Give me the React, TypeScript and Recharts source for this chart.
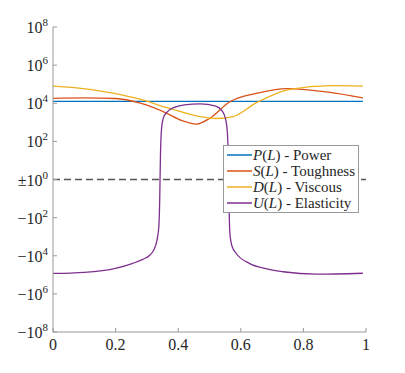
import React from 'react';
import { LineChart, Line, XAxis, YAxis, ReferenceLine, Legend } from 'recharts';

// ---- data ----
const P_L = [0, 0.99];
const P_VALUES = [12600, 12600];

const S_L = [0, 0.1, 0.2, 0.279, 0.364, 0.41, 0.459, 0.5, 0.565, 0.65, 0.747, 0.886, 0.99];
const S_VALUES = [18200, 19000, 17800, 10000, 2950, 1260, 810, 1580, 12000, 33100, 58900, 37200, 19000];

const D_L = [0, 0.118, 0.2, 0.28, 0.364, 0.47, 0.52, 0.575, 0.65, 0.757, 0.886, 0.99];
const D_VALUES = [79400, 53700, 31600, 15800, 5900, 2000, 1580, 2000, 10700, 53700, 83200, 79400];

const U_L = [0, 0.1, 0.2, 0.255, 0.287, 0.31, 0.322, 0.332, 0.338, 0.341, 0.343, 0.346, 0.352, 0.365, 0.39, 0.42, 0.47, 0.52, 0.54, 0.551, 0.557, 0.56, 0.562, 0.565, 0.572, 0.585, 0.627, 0.68, 0.735, 0.84, 0.99];
const U_VALUES = [-85000, -74000, -45700, -25100, -15500, -9100, -5000, -1580, -316, -9, 9, 316, 1580, 3550, 6300, 8300, 9300, 7100, 4000, 1580, 316, 9, -9, -630, -3160, -7400, -25100, -47900, -69000, -93000, -83000];

const X_TICKS = [0, 0.2, 0.4, 0.6, 0.8, 1];
const X_TICK_LABELS = ['0', '0.2', '0.4', '0.6', '0.8', '1'];
const Y_TICK_EXPONENTS = [-8, -6, -4, -2, 0, 2, 4, 6, 8];

const SERIES_NAMES = ['Power', 'Toughness', 'Viscous', 'Elasticity'];
const SERIES_SYMBOLS = ['P', 'S', 'D', 'U'];
const SERIES_COLORS = ['#0072BD', '#D95319', '#EDB120', '#7E2F8E'];

// symmetric log transform
const toT = (v: number) => Math.sign(v) * Math.log10(1 + Math.abs(v));
const build = (ls: number[], vs: number[]) => ls.map((L, i) => ({ L, t: toT(vs[i]) }));

const SERIES_DATA = [
  build(P_L, P_VALUES),
  build(S_L, S_VALUES),
  build(D_L, D_VALUES),
  build(U_L, U_VALUES),
];

const FONT = "'Liberation Serif', 'Times New Roman', serif";
const AXIS_COLOR = '#999999';
const TEXT_COLOR = '#262626';

const BottomTick = (props: any) => {
  const { x, y, payload } = props;
  const idx = X_TICKS.indexOf(payload.value);
  return (
    <g>
      <line x1={x} y1={y} x2={x} y2={y - 4} stroke={AXIS_COLOR} strokeWidth={1} />
      <text x={x} y={y + 12} textAnchor="middle" dominantBaseline="central" fontFamily={FONT} fontSize={16} fill={TEXT_COLOR}>
        {idx >= 0 ? X_TICK_LABELS[idx] : payload.value}
      </text>
    </g>
  );
};

const LeftTick = (props: any) => {
  const { x, y, payload } = props;
  const e = payload.value as number;
  const base = e > 0 ? '10' : e === 0 ? '\u00b110' : '\u221210';
  return (
    <g>
      <line x1={x} y1={y} x2={x + 4} y2={y} stroke={AXIS_COLOR} strokeWidth={1} />
      <text x={x - 5} y={y + 6} textAnchor="end" fontFamily={FONT} fontSize={16} fill={TEXT_COLOR}>
        {base}
        <tspan dy={-7} fontSize={11}>{String(Math.abs(e))}</tspan>
      </text>
    </g>
  );
};

const TopTick = (props: any) => {
  const { x, y } = props;
  return <line x1={x} y1={y} x2={x} y2={y + 4} stroke={AXIS_COLOR} strokeWidth={1} />;
};

const RightTick = (props: any) => {
  const { x, y } = props;
  return <line x1={x} y1={y} x2={x - 4} y2={y} stroke={AXIS_COLOR} strokeWidth={1} />;
};

const LegendBox = () => (
  <div
    style={{
      border: '1px solid #999',
      background: '#fff',
      padding: '1px 2px 1px 3px',
      fontFamily: FONT,
      fontSize: 15,
      lineHeight: '16px',
      color: TEXT_COLOR,
      boxSizing: 'border-box',
      width: 136,
      overflow: 'hidden',
    }}
  >
    {SERIES_NAMES.map((name, i) => (
      <div key={name} style={{ display: 'flex', alignItems: 'center', whiteSpace: 'nowrap', height: 16 }}>
        <svg width={25} height={4} style={{ marginRight: 1, flex: 'none' }}>
          <line x1={0} y1={2} x2={25} y2={2} stroke={SERIES_COLORS[i]} strokeWidth={1.5} />
        </svg>
        <span>
          <i>{SERIES_SYMBOLS[i]}</i>(<i>L</i>) - {name}
        </span>
      </div>
    ))}
  </div>
);

export default function App() {
  return (
    <div style={{ position: 'absolute', left: 0, top: 0, width: 405, height: 373, background: '#fff' }}>
      <LineChart width={405} height={373} margin={{ top: 27, right: 39, left: 0, bottom: 0 }}>
        <XAxis
          xAxisId="b"
          dataKey="L"
          type="number"
          domain={[0, 1]}
          ticks={X_TICKS}
          allowDataOverflow
          height={41}
          stroke={AXIS_COLOR}
          tickLine={false}
          tickSize={0}
          tickMargin={0}
          tick={<BottomTick />}
        />
        <XAxis
          xAxisId="t"
          dataKey="L"
          type="number"
          orientation="top"
          mirror
          domain={[0, 1]}
          ticks={X_TICKS}
          height={0}
          stroke={AXIS_COLOR}
          tickLine={false}
          tickSize={0}
          tickMargin={0}
          tick={<TopTick />}
        />
        <YAxis
          yAxisId="l"
          type="number"
          domain={[-8, 8]}
          ticks={Y_TICK_EXPONENTS}
          width={53}
          stroke={AXIS_COLOR}
          tickLine={false}
          tickSize={0}
          tickMargin={0}
          tick={<LeftTick />}
        />
        <YAxis
          yAxisId="r"
          type="number"
          orientation="right"
          mirror
          domain={[-8, 8]}
          ticks={Y_TICK_EXPONENTS}
          width={0}
          stroke={AXIS_COLOR}
          tickLine={false}
          tickSize={0}
          tickMargin={0}
          tick={<RightTick />}
        />
        <ReferenceLine xAxisId="b" yAxisId="l" y={0} stroke="#555555" strokeWidth={1.5} strokeDasharray="7 4" />
        {SERIES_DATA.map((d, i) => (
          <Line
            key={SERIES_NAMES[i]}
            xAxisId="b"
            yAxisId="l"
            data={d}
            dataKey="t"
            type="monotone"
            stroke={SERIES_COLORS[i]}
            strokeWidth={1.3}
            dot={false}
            activeDot={false}
            isAnimationActive={false}
          />
        ))}
        <Legend
          layout="vertical"
          align="center"
          verticalAlign="middle"
          content={<LegendBox />}
          wrapperStyle={{ left: 223, top: 145, width: 136, height: 'auto' }}
        />
      </LineChart>
    </div>
  );
}
